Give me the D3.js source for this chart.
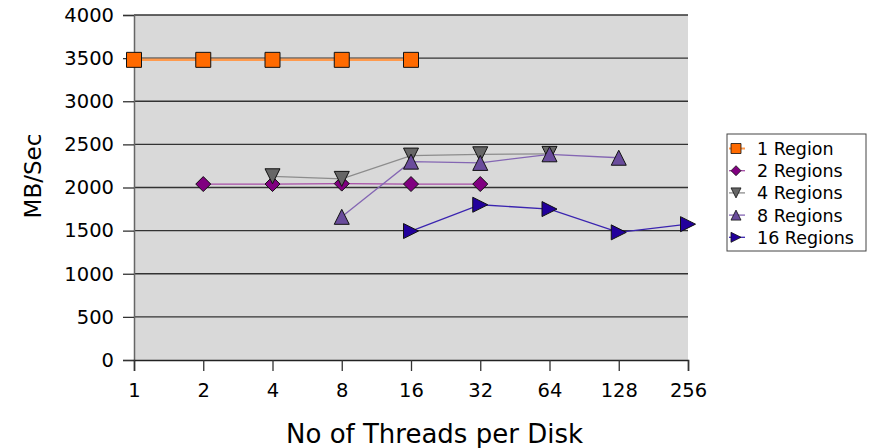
<!DOCTYPE html>
<html>
<head>
<meta charset="utf-8">
<script src="https://cdn.jsdelivr.net/npm/d3@7"></script>
<style>
  body { margin: 0; background: #fff; }
  text { font-family: "DejaVu Sans", sans-serif; fill: #000; }
</style>
</head>
<body>
<div class="canva"></div>
<script>
// data
const threads = [1, 2, 4, 8, 16, 32, 64, 128, 256];
const yTicks = [0, 500, 1000, 1500, 2000, 2500, 3000, 3500, 4000];
const seriesNames = ['1 Region', '2 Regions', '4 Regions', '8 Regions', '16 Regions'];
const region1 = [[1, 3480], [2, 3480], [4, 3480], [8, 3480], [16, 3480]];
const region2 = [[2, 2040], [4, 2040], [8, 2045], [16, 2040], [32, 2040]];
const region4 = [[4, 2130], [8, 2100], [16, 2370], [32, 2385], [64, 2390]];
const region8 = [[8, 1660], [16, 2300], [32, 2285], [64, 2385], [128, 2345]];
const region16 = [[16, 1495], [32, 1800], [64, 1750], [128, 1480], [256, 1575]];

const styles = [
  { line: '#ff9a4d', fill: '#ff6a00', shape: 'square' },
  { line: '#a64ca6', fill: '#800080', shape: 'diamond' },
  { line: '#8c8c8c', fill: '#666666', shape: 'down' },
  { line: '#8466b3', fill: '#6a4c9c', shape: 'up' },
  { line: '#3a24b0', fill: '#22009c', shape: 'right' }
];
const allSeries = [region1, region2, region4, region8, region16];

const W = 869, H = 448;
const margin = { top: 15, right: 181, bottom: 88, left: 134 };

const svg = d3.select('.canva').append('svg')
  .attr('width', W).attr('height', H);

const x = d3.scaleLog().base(2).domain([1, 256]).range([margin.left, W - margin.right]);
const y = d3.scaleLinear().domain([0, 4000]).range([H - margin.bottom, margin.top]);

// plot background
svg.append('rect')
  .attr('x', x(1)).attr('y', y(4000))
  .attr('width', x(256) - x(1)).attr('height', y(0) - y(4000))
  .attr('fill', '#d9d9d9');

// gridlines
svg.append('g').selectAll('line')
  .data(yTicks.filter(d => d > 0))
  .join('line')
  .attr('x1', x(1)).attr('x2', x(256))
  .attr('y1', d => y(d)).attr('y2', d => y(d))
  .attr('stroke', '#333').attr('stroke-width', 1.3);

// y axis
const yAxis = svg.append('g')
  .attr('transform', `translate(${x(1)},0)`)
  .call(d3.axisLeft(y).tickValues(yTicks).tickFormat(d3.format('d')).tickSize(11).tickPadding(9))
yAxis.select('.domain').attr('stroke', '#666').attr('stroke-width', 1.5);
yAxis.selectAll('.tick line').attr('stroke', '#333').attr('stroke-width', 1.3);
yAxis.selectAll('.tick text').style('font-size', '19.5px').style('font-family', 'DejaVu Sans');

// x axis
const xAxis = svg.append('g')
  .attr('transform', `translate(0,${y(0)})`)
  .call(d3.axisBottom(x).tickValues(threads).tickFormat(d3.format('d')).tickSize(11).tickPadding(12));
xAxis.select('.domain').attr('stroke', '#222').attr('stroke-width', 1.5);
xAxis.selectAll('.tick line').attr('stroke', '#333').attr('stroke-width', 1.3);
xAxis.selectAll('.tick text').style('font-size', '19.5px').style('font-family', 'DejaVu Sans');

// titles
svg.append('text')
  .attr('x', W / 2).attr('y', 443)
  .attr('text-anchor', 'middle').style('font-size', '26px')
  .text('No of Threads per Disk');
svg.append('text')
  .attr('transform', 'translate(41,176) rotate(-90)')
  .attr('text-anchor', 'middle').style('font-size', '23px')
  .text('MB/Sec');

function markerPath(shape, s) {
  const h = s / 2;
  if (shape === 'square') return `M${-h},${-h}H${h}V${h}H${-h}Z`;
  if (shape === 'diamond') return `M0,${-h}L${h},0L0,${h}L${-h},0Z`;
  if (shape === 'down') return `M${-h},${-h}H${h}L0,${h}Z`;
  if (shape === 'up') return `M0,${-h}L${h},${h}H${-h}Z`;
  return `M${-h},${-h}L${h},0L${-h},${h}Z`;
}

const line = d3.line().x(d => x(d[0])).y(d => y(d[1]));

allSeries.forEach((data, i) => {
  const st = styles[i];
  const g = svg.append('g');
  g.append('path').datum(data)
    .attr('d', line).attr('fill', 'none')
    .attr('stroke', st.line).attr('stroke-width', i === 0 ? 2.5 : 1.3);
  g.selectAll('path.m').data(data).join('path')
    .attr('class', 'm')
    .attr('transform', d => `translate(${x(d[0])},${y(d[1])})`)
    .attr('d', markerPath(st.shape, 15))
    .attr('fill', st.fill).attr('stroke', '#111').attr('stroke-width', 1);
});

// legend
const lg = svg.append('g').attr('transform', 'translate(727,134)');
lg.append('rect').attr('width', 139).attr('height', 117)
  .attr('fill', '#fff').attr('stroke', '#444').attr('stroke-width', 1);
seriesNames.forEach((name, i) => {
  const st = styles[i];
  const cy = 14.5 + i * 22.2;
  lg.append('line').attr('x1', 2).attr('x2', 18).attr('y1', cy).attr('y2', cy)
    .attr('stroke', st.line).attr('stroke-width', i === 0 ? 2 : 1.3);
  lg.append('path').attr('transform', `translate(9,${cy})`)
    .attr('d', markerPath(st.shape, 10))
    .attr('fill', st.fill).attr('stroke', '#111').attr('stroke-width', 0.8);
  lg.append('text').attr('x', 30).attr('y', cy + 6.5)
    .style('font-size', '17.5px').text(name);
});
</script>
</body>
</html>
